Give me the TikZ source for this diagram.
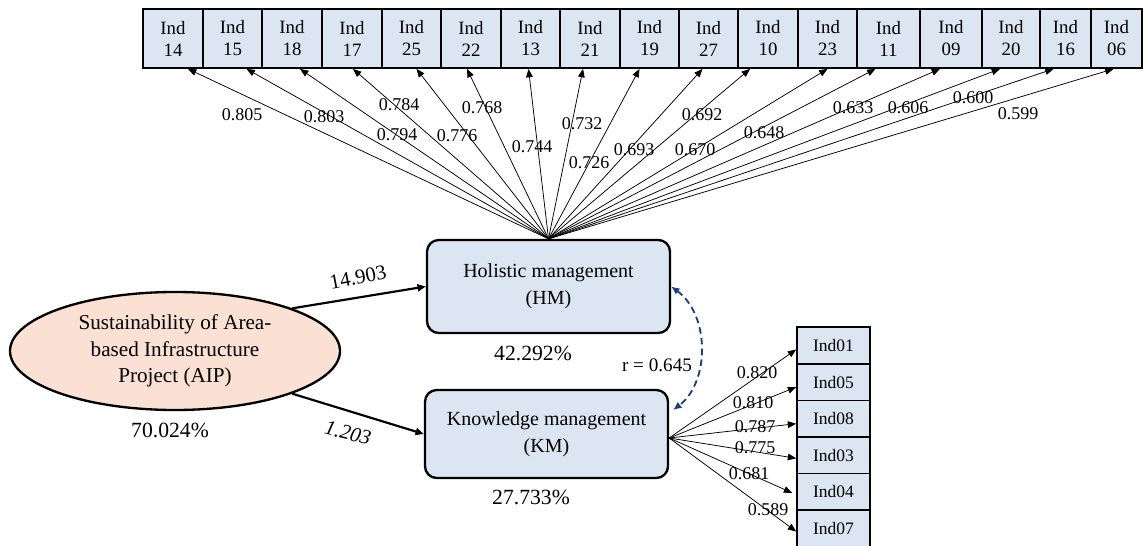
\documentclass[tikz,border=0pt]{standalone}
\usepackage{fontspec}
\setmainfont{Liberation Serif}
\usetikzlibrary{arrows.meta,calc,shapes.geometric}
\definecolor{indblue}{HTML}{DCE6F2}
\definecolor{aippeach}{HTML}{FBE1D3}
\definecolor{rnavy}{HTML}{1F3C7C}
\tikzset{
  indtop/.style={draw, line width=1.1pt, fill=indblue, minimum height=35.4pt, inner sep=0pt, align=center, font=\fontsize{11.3}{13.2}\selectfont},
  indright/.style={draw, line width=1pt, fill=indblue, minimum width=43.8pt, minimum height=21.9pt, inner sep=0pt, font=\fontsize{10.5}{12}\selectfont},
  latent/.style={draw, line width=1.4pt, fill=indblue, rounded corners=7pt, minimum width=145.8pt, align=center, font=\fontsize{12}{16.2}\selectfont},
  load/.style={-{Triangle[length=5pt,width=4pt]}, line width=0.45pt},
  path/.style={-{Triangle[length=5pt,width=4.2pt]}, line width=1.3pt},
  wt/.style={font=\fontsize{10.8}{12}\selectfont, inner sep=0pt},
  pct/.style={font=\fontsize{13}{15}\selectfont, inner sep=0pt},
}
\begin{document}
\begin{tikzpicture}[x=0.6pt,y=-0.6pt]
\useasboundingbox (0,0) rectangle (1143,545);
% constructs
\node[ellipse, draw, line width=1.4pt, fill=aippeach, minimum width=198pt, minimum height=70.8pt, inner sep=0pt, align=center, font=\fontsize{12.7}{16}\selectfont] (aip) at (175,351) {Sustainability of Area-\\based Infrastructure\\Project (AIP)};
\node[latent, minimum height=55.8pt] (hm) at (548.5,286.5) {Holistic management\\(HM)};
\node[latent, minimum height=52.8pt] (km) at (546.5,434) {Knowledge management\\(KM)};
% indicators of HM
\node[indtop, minimum width=36pt] (ind14) at (173,38.5) {Ind\\14};
\node[indtop, minimum width=35.4pt] (ind15) at (232.5,38.5) {Ind\\15};
\node[indtop, minimum width=36pt] (ind18) at (292,38.5) {Ind\\18};
\node[indtop, minimum width=36pt] (ind17) at (352,38.5) {Ind\\17};
\node[indtop, minimum width=35.4pt] (ind25) at (411.5,38.5) {Ind\\25};
\node[indtop, minimum width=36pt] (ind22) at (471,38.5) {Ind\\22};
\node[indtop, minimum width=35.4pt] (ind13) at (530.5,38.5) {Ind\\13};
\node[indtop, minimum width=36pt] (ind21) at (590,38.5) {Ind\\21};
\node[indtop, minimum width=35.4pt] (ind19) at (649.5,38.5) {Ind\\19};
\node[indtop, minimum width=35.4pt] (ind27) at (708.5,38.5) {Ind\\27};
\node[indtop, minimum width=36pt] (ind10) at (768,38.5) {Ind\\10};
\node[indtop, minimum width=35.4pt] (ind23) at (827.5,38.5) {Ind\\23};
\node[indtop, minimum width=37.8pt] (ind11) at (888.5,38.5) {Ind\\11};
\node[indtop, minimum width=37.2pt] (ind09) at (951,38.5) {Ind\\09};
\node[indtop, minimum width=34.8pt] (ind20) at (1011,38.5) {Ind\\20};
\node[indtop, minimum width=30.6pt] (ind16) at (1065.5,38.5) {Ind\\16};
\node[indtop, minimum width=30.6pt] (ind06) at (1116.5,38.5) {Ind\\06};
\draw[load] (hm.north) -- ($(ind14.south)+(15,0)$);
\draw[load] (hm.north) -- ($(ind15.south)+(14,0)$);
\draw[load] (hm.north) -- ($(ind18.south)+(8,0)$);
\draw[load] (hm.north) -- ($(ind17.south)+(1,0)$);
\draw[load] (hm.north) -- ($(ind25.south)+(5,0)$);
\draw[load] (hm.north) -- ($(ind22.south)+(-4,0)$);
\draw[load] (hm.north) -- ($(ind13.south)+(-2,0)$);
\draw[load] (hm.north) -- ($(ind21.south)+(-7,0)$);
\draw[load] (hm.north) -- ($(ind19.south)+(-10,0)$);
\draw[load] (hm.north) -- ($(ind27.south)+(-6,0)$);
\draw[load] (hm.north) -- ($(ind10.south)+(-18,0)$);
\draw[load] (hm.north) -- ($(ind23.south)+(0,0)$);
\draw[load] (hm.north) -- ($(ind11.south)+(-13,0)$);
\draw[load] (hm.north) -- ($(ind09.south)+(-11,0)$);
\draw[load] (hm.north) -- ($(ind20.south)+(-11,0)$);
\draw[load] (hm.north) -- ($(ind16.south)+(-12,0)$);
\draw[load] (hm.north) -- ($(ind06.south)+(-3,0)$);
\node[wt] (w14) at (242,115) {0.805};
\node[wt] (w15) at (324,117) {0.803};
\node[wt] (w18) at (397,135) {0.794};
\node[wt] (w17) at (399,105) {0.784};
\node[wt] (w25) at (457,136) {0.776};
\node[wt] (w22) at (482,108) {0.768};
\node[wt] (w13) at (532,147) {0.744};
\node[wt] (w21) at (582,124) {0.732};
\node[wt] (w19) at (589,163) {0.726};
\node[wt] (w27) at (634,150) {0.693};
\node[wt] (w10) at (702,115) {0.692};
\node[wt] (w23) at (695,150) {0.670};
\node[wt] (w11) at (764,133) {0.648};
\node[wt] (w09) at (853,108) {0.633};
\node[wt] (w20) at (908,108) {0.606};
\node[wt] (w16) at (973,98) {0.600};
\node[wt] (w06) at (1018,114) {0.599};
% indicators of KM
\node[indright] (ind01) at (833.5,345.5) {Ind01};
\node[indright] (ind05) at (833.5,382.1) {Ind05};
\node[indright] (ind08) at (833.5,418.7) {Ind08};
\node[indright] (ind03) at (833.5,455.3) {Ind03};
\node[indright] (ind04) at (833.5,491.9) {Ind04};
\node[indright] (ind07) at (833.5,528.5) {Ind07};
\coordinate (kmout) at ($(km.east)+(0,4)$);
\draw[load] (kmout) -- ($(ind01.west)+(0,4)$);
\draw[load] (kmout) -- ($(ind05.west)+(0,5)$);
\draw[load] (kmout) -- ($(ind08.west)+(0,5)$);
\draw[load] (kmout) -- ($(ind03.west)+(0,3)$);
\draw[load] (kmout) -- ($(ind04.west)+(-4,1)$);
\draw[load] (kmout) -- ($(ind07.west)+(0,3)$);
\node[wt] (w01) at (757,373) {0.820};
\node[wt] (w05) at (753,403) {0.810};
\node[wt] (w08) at (755,427) {0.787};
\node[wt] (w03) at (755,448) {0.775};
\node[wt] (w04) at (749,474) {0.681};
\node[wt] (w07) at (768,510) {0.589};
% structural paths
\draw[path] (aip.20) -- (hm.west);
\draw[path] (aip.-20) -- (km.west);
\node[font=\fontsize{12.5}{14}\selectfont, rotate=11, inner sep=0pt] (bhm) at (358,277) {14.903};
\node[font=\fontsize{12.5}{14}\selectfont\itshape, rotate=-14, inner sep=0pt] (bkm) at (348,433) {1.203};
\draw[rnavy, dash pattern=on 4pt off 2.5pt, line width=1.1pt, {Latex[length=5pt,width=4.5pt]}-{Latex[length=5pt,width=4.5pt]}] (hm.east) .. controls (710,315) and (710,382) .. ($(km.east)+(4,-24)$);
\node[font=\fontsize{11.5}{14}\selectfont, inner sep=0pt] (rcor) at (657,365) {r = 0.645};
\node[pct] (pcthm) at (533,353) {42.292\%};
\node[pct] (pctkm) at (531,497) {27.733\%};
\node[pct] (pctaip) at (170,430) {70.024\%};
\end{tikzpicture}
\end{document}
